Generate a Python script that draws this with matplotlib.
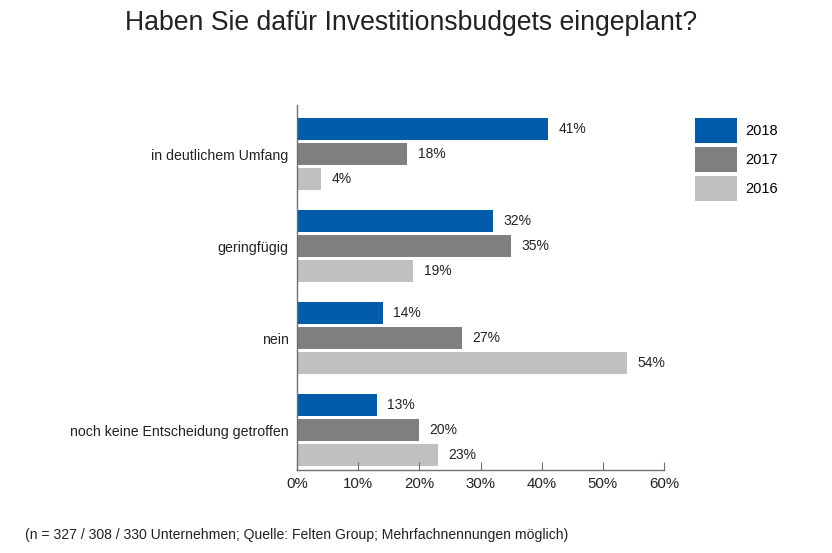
import matplotlib
matplotlib.use("Agg")
import matplotlib.pyplot as plt
from matplotlib.patches import Patch
import numpy as np

plt.rcParams['font.family'] = ['Liberation Sans Narrow', 'Liberation Sans', 'DejaVu Sans']

categories = ["in deutlichem Umfang", "geringfügig", "nein", "noch keine Entscheidung getroffen"]
years = ["2018", "2017", "2016"]
values = {
    "2018": [41, 32, 14, 13],
    "2017": [18, 35, 27, 20],
    "2016": [4, 19, 54, 23],
}
colors = {"2018": "#005BAA", "2017": "#7F7F7F", "2016": "#C0C0C0"}
title = "Haben Sie dafür Investitionsbudgets eingeplant?"
footnote = "(n = 327 / 308 / 330 Unternehmen; Quelle: Felten Group; Mehrfachnennungen möglich)"
xticks = [0, 10, 20, 30, 40, 50, 60]

fig = plt.figure(figsize=(8.32, 5.53), dpi=100)
ax = fig.add_axes([297/832, 1-470/553, (664-297)/832, (470-105)/553])

y = np.arange(len(categories))
offsets = [-0.272, 0.0, 0.272]
h = 0.24
handles = []
for yr, off in zip(years, offsets):
    bars = ax.barh(y + off, values[yr], height=h, color=colors[yr], label=yr)
    for b, v in zip(bars, values[yr]):
        ax.annotate(f"{v}%", (v, b.get_y() + b.get_height()/2), xytext=(7.5, 0),
                    textcoords="offset points", va="center", ha="left",
                    fontsize=10, color="#222222")
    handles.append(Patch(facecolor=colors[yr], label=yr))

ax.set_ylim(3.434, -0.533)
ax.set_xlim(0, 60)
ax.set_yticks(y)
ax.set_yticklabels(categories, fontsize=10.2, color="#222222")
ax.tick_params(axis='y', length=0, pad=6)
ax.set_xticks(xticks)
ax.set_xticklabels([f"{t}%" for t in xticks], fontsize=10.8, color="#222222")
ax.tick_params(axis='x', direction='in', length=6, color="#707070", pad=5)
for s in ['top', 'right']:
    ax.spines[s].set_visible(False)
for s in ['left', 'bottom']:
    ax.spines[s].set_color("#707070")
    ax.spines[s].set_linewidth(1.0)

leg = fig.legend(handles=handles, loc='upper left', bbox_to_anchor=(695/832, 1-118/553),
                 frameon=False, fontsize=10.5, handlelength=2.9, handleheight=2.25,
                 labelspacing=0.27, handletextpad=0.55, borderaxespad=0, borderpad=0)

fig.text(411/832, 1-23/553, title, ha='center', va='center', fontsize=19.2, color="#222222")
fig.text(25/832, 1-535/553, footnote, ha='left', va='center', fontsize=10.1, color="#222222")

fig.savefig("out.png", dpi=100)
